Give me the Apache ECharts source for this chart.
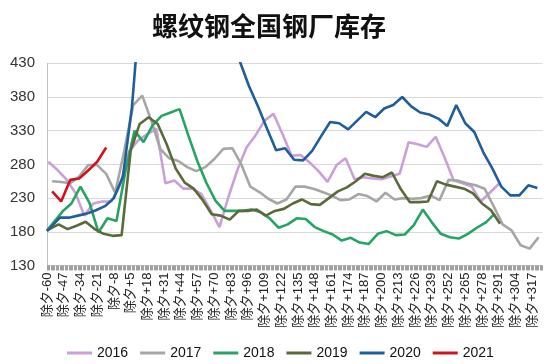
<!DOCTYPE html>
<html><head><meta charset="utf-8">
<script src="https://cdn.jsdelivr.net/npm/echarts@6/dist/echarts.min.js"></script>
<style>html,body{margin:0;padding:0;background:#fff}#c{width:550px;height:364px}</style>
</head><body><div id="c"></div>
<script>
const chartTitle = '螺纹钢全国钢厂库存';
const xLabelDays = [-60,-47,-34,-21,-8,5,18,31,44,57,70,83,96,109,122,135,148,161,174,187,200,213,226,239,252,265,278,291,304,317];
const yTicks = [130,180,230,280,330,380,430];
const years = ['2016','2017','2018','2019','2020','2021'];

const days2016 = [-59,-52,-45,-38,-31,-24,-17,-10,-3,4,11,18,25,32,39,46,53,60,67,74,81,88,95,102,109,116,123,130,137,144,151,158,165,172,179,186,193,200,207,214,221,228,235,242,249,256,263,270,277,284,291];
const vals2016 = [284,272,258,238,204,222,225,225,250,300,316,325,333,252,256,244,244,236,212,187,232,272,305,323,345,355,325,293,294,283,270,254,279,289,258,261,259,258,262,266,313,310,306,321,290,256,252,247,225,238,251];

const days2017 = [-56,-49,-42,-35,-28,-21,-14,-7,0,7,14,21,28,35,42,49,56,63,70,77,84,91,98,105,112,119,126,133,140,147,154,161,168,175,182,189,196,203,210,217,224,231,238,245,252,259,266,273,280,287,294,301,308,315,322];
const vals2017 = [255,254,252,262,279,279,266,238,300,368,382,345,303,289,285,276,270,276,288,303,304,280,247,239,229,222,228,247,247,244,239,234,227,228,236,233,225,238,228,230,229,230,234,227,257,256,252,249,244,218,191,182,160,155,172];

const days2018 = [-60,-48,-41,-34,-27,-20,-13,-6,1,8,15,22,29,36,43,50,57,64,71,78,85,92,99,106,113,120,127,134,141,148,155,162,169,176,183,190,197,204,211,218,225,232,239,246,253,260,267,274,281,288];
const vals2018 = [182,210,222,247,223,179,200,196,270,330,313,338,352,357,362,322,284,252,226,211,211,211,213,209,200,186,191,200,199,187,181,176,167,171,164,162,177,181,175,176,190,213,194,177,172,170,177,186,194,207];

const days2019 = [-60,-51,-44,-37,-30,-23,-16,-9,-2,5,12,19,26,33,40,47,54,61,68,75,82,89,96,103,110,117,124,131,138,145,152,159,166,173,180,187,194,201,208,215,222,229,236,243,250,257,264,271,278,285,292];
const vals2019 = [182,191,184,189,195,184,177,174,175,300,340,350,340,310,274,253,244,227,206,204,198,211,211,213,204,211,214,222,228,221,220,230,240,246,255,266,263,261,268,243,224,224,225,255,250,247,244,237,222,212,192];

const days2020 = [-60,-50,-43,-36,-29,-22,-15,-8,-1,6,13,20,27,34,41,48,55,62,69,76,83,90,97,104,111,118,125,132,139,146,153,160,167,174,181,188,195,202,209,216,223,230,237,244,251,258,265,272,279,286,293,300,307,314,321];
const vals2020 = [181,201,201,204,207,212,218,230,262,365,530,600,640,655,650,635,615,590,560,520,475,432,396,366,333,301,304,287,286,300,322,343,341,332,345,358,350,363,368,380,366,357,354,348,337,368,341,328,298,274,247,234,234,249,245];

const days2021 = [-56,-49,-42,-35,-28,-21,-14];
const vals2021 = [240,225,257,259,271,284,305];

const colors = ['#c9a0d8','#a6a6a6','#26a463','#5a6a3a','#1f5e9c','#d0141c'];
const allDays = [days2016,days2017,days2018,days2019,days2020,days2021];
const allVals = [vals2016,vals2017,vals2018,vals2019,vals2020,vals2021];

const X0 = xLabelDays[0];       // first day shown on the axis
const XEND = 325;               // last day shown on the axis
const Y0 = yTicks[0], Y1 = yTicks[yTicks.length-1], YSTEP = yTicks[1]-yTicks[0];

function pairs(days, vals){ return days.map((d,i)=>[d - X0, vals[i] - Y0]); }

const series = years.map((y,i)=>({
  name: y, type: 'line', data: pairs(allDays[i], allVals[i]),
  symbol: 'none', smooth: false, clip: true,
  lineStyle: {color: colors[i], width: 2.6}, itemStyle: {color: colors[i]}
}));

const chart = echarts.init(document.getElementById('c'), null, {renderer:'canvas'});
chart.setOption({
  animation: false,
  backgroundColor: '#fff',
  title: {text: chartTitle, left: 147, top: 8,
    textStyle: {fontFamily: 'Noto Sans CJK SC', fontWeight: 'bold', fontSize: 26, color: '#111'}},
  grid: {left: 47, right: 7.5, top: 63.3, bottom: 98.5, containLabel: false},
  legend: {data: years, left: 62, top: 341, icon: 'rect', itemWidth: 25, itemHeight: 3, itemGap: 12,
    textStyle: {fontFamily: 'Liberation Sans, Arial', fontSize: 14, color: '#111', lineHeight: 14}},
  xAxis: {type: 'value', min: 0, max: XEND - X0, interval: 1,
    axisLine: {show: true, lineStyle: {color: '#bfbfbf', width: 1}},
    axisTick: {show: true, length: 5, lineStyle: {color: '#a0a0a0', width: 1}},
    splitLine: {show: false},
    axisLabel: {rotate: 90, margin: 7, fontSize: 13, color: '#222',
      fontFamily: 'Liberation Sans, Noto Sans CJK SC',
      formatter: v => { const d = Math.round(v) + X0; if (xLabelDays.indexOf(d) < 0) return ''; return '除夕' + (d < 0 ? String(d) : '+' + d); }}
  },
  yAxis: {type: 'value', min: 0, max: Y1 - Y0, interval: YSTEP,
    axisLine: {show: true, lineStyle: {color: '#bfbfbf', width: 1}},
    axisTick: {show: false},
    splitLine: {show: true, lineStyle: {color: '#d9d9d9', width: 1}},
    axisLabel: {margin: 12, fontSize: 15, color: '#333', fontFamily: 'Liberation Sans, Arial',
      formatter: v => String(v + Y0)}
  },
  series: series
});
</script></body></html>
